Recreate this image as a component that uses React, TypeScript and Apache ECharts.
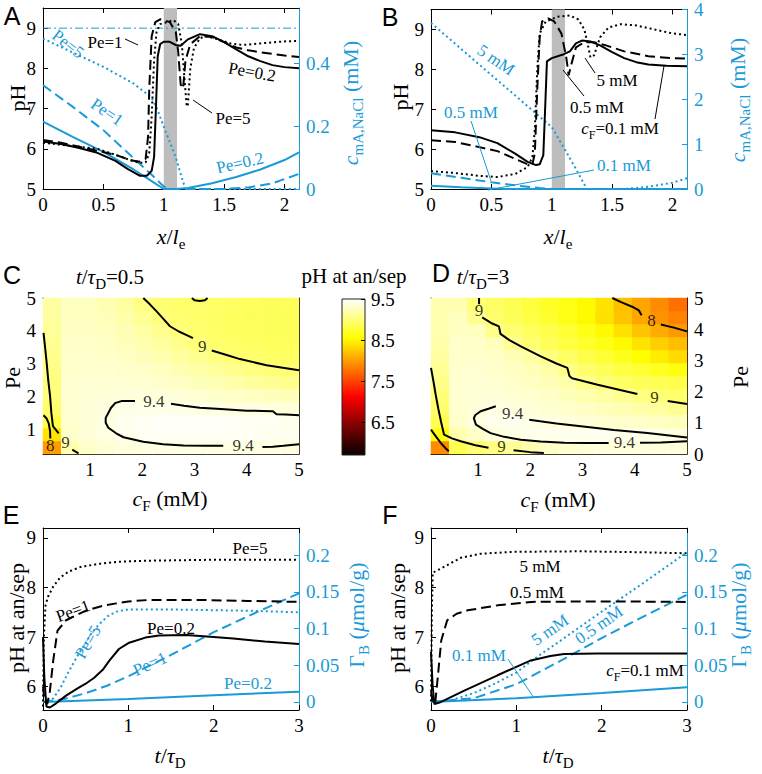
import React, { useEffect, useRef } from 'react';
import * as echarts from 'echarts';

type Pt = [number, number];

const SERIF = 'Liberation Serif';
const SANS = 'Liberation Sans';
const BLUE = '#1a9ad7';
const BLACK = '#000000';

// ---------------- Panel A: pH (left) and c_mA,NaCl (right) vs x/l_e ----------------
const A_PH_PE02: Pt[] = [[0,6.18],[0.15,6.12],[0.3,6.02],[0.45,5.9],[0.6,5.7],[0.7,5.5],[0.8,5.33],[0.86,5.33],[0.9,5.45],[0.92,5.8],[0.935,7.0],[0.95,8.3],[0.97,8.6],[1.0,8.66],[1.05,8.66],[1.1,8.58],[1.14,8.56],[1.2,8.72],[1.3,8.85],[1.4,8.8],[1.5,8.65],[1.6,8.47],[1.7,8.3],[1.8,8.18],[1.9,8.08],[2.0,8.03],[2.12,8.0]];
const A_PH_PE1: Pt[] = [[0,6.22],[0.15,6.15],[0.3,6.05],[0.45,5.95],[0.6,5.85],[0.72,5.72],[0.8,5.68],[0.85,5.75],[0.87,6.3],[0.88,7.5],[0.9,8.8],[0.93,9.15],[0.97,9.22],[1.0,9.2],[1.05,9.15],[1.1,8.9],[1.12,8.4],[1.14,7.6],[1.16,7.5],[1.18,8.2],[1.22,8.6],[1.3,8.8],[1.4,8.78],[1.5,8.65],[1.6,8.52],[1.7,8.45],[1.8,8.4],[2.0,8.32],[2.12,8.28]];
const A_PH_PE5: Pt[] = [[0,6.15],[0.15,6.1],[0.3,6.05],[0.45,6.0],[0.6,5.85],[0.72,5.72],[0.8,5.65],[0.85,5.66],[0.88,5.9],[0.9,6.8],[0.92,8.2],[0.94,8.9],[0.97,9.1],[1.03,9.15],[1.08,9.2],[1.12,9.1],[1.15,8.6],[1.17,7.8],[1.19,7.05],[1.2,7.1],[1.22,8.0],[1.25,8.5],[1.3,8.75],[1.35,8.8],[1.45,8.72],[1.55,8.62],[1.65,8.58],[1.8,8.62],[2.0,8.67],[2.12,8.68]];
const A_C_PE02: Pt[] = [[0,0.214],[0.25,0.165],[0.5,0.118],[0.75,0.062],[0.9,0.025],[1.0,0],[1.1,0],[1.2,0.003],[1.4,0.018],[1.6,0.038],[1.8,0.062],[2.0,0.092],[2.12,0.116]];
const A_C_PE1: Pt[] = [[0,0.33],[0.25,0.26],[0.5,0.187],[0.75,0.098],[0.9,0.045],[1.0,0.008],[1.05,0],[1.5,0],[1.7,0.005],[1.9,0.018],[2.12,0.048]];
const A_C_PE5: Pt[] = [[0,0.478],[0.25,0.433],[0.5,0.388],[0.75,0.335],[0.9,0.29],[0.95,0.25],[1.0,0.198],[1.05,0.15],[1.1,0.1],[1.15,0.035],[1.18,0],[2.12,0]];
const A_C_FEED = 0.511;

// ---------------- Panel B ----------------
const B_PH_CF01: Pt[] = [[0,6.47],[0.2,6.42],[0.4,6.3],[0.55,6.15],[0.7,5.88],[0.8,5.68],[0.87,5.6],[0.9,5.62],[0.93,5.85],[0.945,7.0],[0.96,8.2],[1.0,8.28],[1.1,8.38],[1.15,8.45],[1.2,8.65],[1.25,8.72],[1.32,8.7],[1.4,8.6],[1.5,8.43],[1.6,8.28],[1.7,8.18],[1.8,8.12],[1.95,8.09],[2.12,8.08]];
const B_PH_CF05: Pt[] = [[0,6.22],[0.2,6.18],[0.4,6.05],[0.55,5.95],[0.7,5.75],[0.8,5.62],[0.84,5.62],[0.86,5.9],[0.88,7.5],[0.9,8.8],[0.92,9.2],[0.97,9.28],[1.02,9.2],[1.08,8.9],[1.12,8.3],[1.14,7.85],[1.16,8.1],[1.2,8.55],[1.27,8.68],[1.35,8.68],[1.45,8.6],[1.6,8.45],[1.8,8.33],[2.0,8.28],[2.12,8.27]];
const B_PH_CF5: Pt[] = [[0,5.45],[0.2,5.4],[0.4,5.33],[0.55,5.3],[0.7,5.38],[0.8,5.55],[0.84,5.8],[0.86,6.5],[0.88,8.0],[0.9,8.9],[0.95,9.2],[1.05,9.32],[1.15,9.35],[1.22,9.25],[1.27,9.0],[1.3,8.6],[1.32,8.3],[1.35,8.35],[1.4,8.8],[1.47,9.05],[1.57,9.13],[1.7,9.1],[1.85,9.0],[2.0,8.9],[2.12,8.86]];
const B_C_CF5: Pt[] = [[0,3.7],[0.25,3.12],[0.5,2.54],[0.75,1.96],[1.0,1.38],[1.1,0.92],[1.2,0.45],[1.29,0],[1.6,0],[1.8,0.05],[2.0,0.14],[2.12,0.24]];
const B_C_CF05: Pt[] = [[0,0.35],[0.25,0.25],[0.5,0.15],[0.7,0.08],[0.9,0.02],[1.0,0],[2.12,0]];
const B_C_CF01: Pt[] = [[0,0.07],[0.25,0.04],[0.5,0.012],[0.6,0],[2.12,0]];
const MEMBRANE_BAND: [number, number] = [1.0, 1.11];

// ---------------- Panels C, D: pH at an/sep maps (rows bottom -> top) ----------------
const CF_CENTERS = [0.275,0.625,0.975,1.325,1.675,2.025,2.375,2.725,3.075,3.425,3.775,4.125,4.475,4.825];
const PE_CENTERS_C = [0.45,0.84,1.24,1.64,2.03,2.43,2.83,3.22,3.62,4.01,4.41,4.8];
const PE_CENTERS_D = [0.21,0.625,1.04,1.46,1.875,2.29,2.71,3.125,3.54,3.96,4.375,4.79];
const C_PH: number[][] = [
  [8.0,9.2,9.3,9.35,9.37,9.38,9.39,9.39,9.4,9.4,9.4,9.39,9.39,9.38],
  [8.4,9.3,9.36,9.39,9.43,9.45,9.46,9.46,9.46,9.46,9.45,9.45,9.44,9.44],
  [8.8,9.32,9.36,9.39,9.44,9.46,9.47,9.47,9.47,9.47,9.46,9.46,9.45,9.42],
  [8.95,9.33,9.36,9.38,9.41,9.42,9.42,9.41,9.4,9.39,9.39,9.38,9.37,9.36],
  [9.0,9.33,9.35,9.36,9.37,9.37,9.36,9.35,9.33,9.31,9.29,9.27,9.25,9.23],
  [9.02,9.32,9.34,9.34,9.34,9.33,9.31,9.28,9.25,9.22,9.18,9.14,9.1,9.07],
  [9.05,9.31,9.32,9.32,9.31,9.29,9.26,9.22,9.17,9.12,9.07,9.03,9.0,8.98],
  [9.07,9.3,9.31,9.3,9.28,9.25,9.2,9.14,9.08,9.02,8.98,8.95,8.93,8.92],
  [9.1,9.29,9.3,9.28,9.25,9.2,9.14,9.07,9.0,8.96,8.93,8.91,8.9,8.89],
  [9.12,9.28,9.28,9.26,9.22,9.16,9.08,9.0,8.96,8.93,8.91,8.9,8.89,8.88],
  [9.14,9.27,9.27,9.24,9.18,9.1,9.01,8.97,8.94,8.92,8.9,8.89,8.88,8.88],
  [9.15,9.26,9.26,9.22,9.14,9.03,8.98,8.95,8.96,8.93,8.91,8.9,8.89,8.89],
];
const D_PH: number[][] = [
  [7.9,8.85,8.97,9.03,9.1,9.2,9.28,9.32,9.35,9.36,9.37,9.37,9.37,9.36],
  [8.6,9.2,9.3,9.37,9.4,9.42,9.43,9.44,9.44,9.44,9.43,9.42,9.4,9.38],
  [8.85,9.3,9.39,9.43,9.44,9.41,9.38,9.37,9.35,9.33,9.31,9.29,9.27,9.25],
  [8.95,9.32,9.36,9.4,9.38,9.36,9.34,9.31,9.28,9.25,9.21,9.17,9.13,9.09],
  [9.0,9.33,9.35,9.35,9.34,9.32,9.29,9.25,9.2,9.15,9.09,9.03,8.98,8.95],
  [9.05,9.33,9.34,9.33,9.31,9.28,9.24,9.18,9.07,8.99,8.93,8.89,8.86,8.83],
  [9.1,9.32,9.33,9.31,9.28,9.24,9.17,9.05,8.96,8.88,8.81,8.74,8.67,8.6],
  [9.15,9.31,9.31,9.29,9.24,9.16,9.02,8.92,8.83,8.74,8.66,8.55,8.45,8.35],
  [9.18,9.3,9.29,9.25,9.1,8.97,8.88,8.8,8.72,8.63,8.52,8.4,8.28,8.18],
  [9.2,9.28,9.26,9.06,8.97,8.9,8.82,8.74,8.64,8.52,8.38,8.22,8.08,7.98],
  [9.2,9.26,9.08,8.96,8.88,8.8,8.72,8.63,8.52,8.38,8.22,8.06,7.94,7.85],
  [9.2,9.2,9.0,8.92,8.85,8.78,8.7,8.62,8.52,8.4,8.2,8.04,7.9,7.75],
];
// contour lines (cF, Pe), split where labels sit
const C_CONTOURS: Pt[][] = [
  [[2.02,5.0],[2.15,4.8],[2.27,4.6],[2.4,4.37],[2.53,4.14],[2.7,3.98],[2.85,3.87],[2.97,3.78]],
  [[3.33,3.4],[3.6,3.27],[3.87,3.14],[4.38,2.95],[5.0,2.8]],
  [[2.95,5.0],[3.0,4.93],[3.1,4.91],[3.2,4.93],[3.25,5.0]],
  [[0.11,3.94],[0.14,3.5],[0.17,3.03],[0.2,2.5],[0.235,2.02],[0.26,1.5],[0.29,1.1],[0.34,1.0],[0.4,0.88]],
  [[0.66,0.38],[0.78,0.27]],
  [[0.11,1.43],[0.17,1.33],[0.21,1.18],[0.235,0.95],[0.24,0.72]],
  [[5.0,1.43],[4.75,1.45],[4.57,1.46],[4.5,1.55],[4.3,1.56],[4.0,1.57],[3.5,1.62],[3.1,1.66],[2.8,1.72],[2.55,1.78]],
  [[1.86,1.86],[1.6,1.86],[1.48,1.8],[1.4,1.65],[1.3,1.35],[1.3,1.2],[1.35,1.05],[1.5,0.88],[1.64,0.76],[2.02,0.62],[2.4,0.55],[2.79,0.51],[3.2,0.5],[3.55,0.5]],
  [[4.3,0.46],[4.5,0.47],[4.7,0.5],[5.0,0.55]],
];
const C_LABELS: [number, number, string][] = [[3.15,3.52,'9'],[0.53,0.6,'9'],[0.24,0.5,'8'],[2.22,1.84,'9.4'],[3.93,0.5,'9.4']];
const D_CONTOURS: Pt[][] = [
  [[3.57,5.0],[3.75,4.86],[3.95,4.72],[4.08,4.6],[4.13,4.45]],
  [[4.5,4.15],[4.75,4.05],[5.0,3.93]],
  [[1.02,5.0],[1.02,4.8]],
  [[1.08,4.38],[1.25,4.2],[1.4,4.09],[1.43,3.85],[1.6,3.65],[1.82,3.45],[2.2,3.13],[2.5,2.9],[2.71,2.76],[2.75,2.5],[2.8,2.43],[3.29,2.22],[3.7,2.06],[4.05,1.92]],
  [[4.63,1.7],[5.0,1.6]],
  [[1.34,1.53],[1.2,1.45],[1.05,1.37],[0.95,1.25],[0.92,1.15],[0.96,0.94],[1.1,0.8],[1.24,0.67],[1.5,0.55],[1.82,0.46],[2.2,0.4],[2.65,0.36],[3.1,0.35],[3.5,0.35]],
  [[4.1,0.36],[4.5,0.37],[5.0,0.41]],
  [[1.98,1.1],[2.5,0.98],[2.97,0.89],[3.6,0.77],[4.24,0.67],[5.0,0.53]],
  [[0.1,2.76],[0.15,2.3],[0.19,1.9],[0.24,1.45],[0.29,1.05],[0.35,0.62],[0.5,0.5],[0.67,0.41],[0.95,0.28],[1.2,0.2]],
  [[1.68,0.12],[2.0,0.06],[2.26,0.03]],
  [[0.1,0.78],[0.2,0.55],[0.29,0.35],[0.37,0.2],[0.44,0.09]],
];
const D_LABELS: [number, number, string][] = [[4.32,4.27,'8'],[1.02,4.6,'9'],[4.38,1.82,'9'],[1.66,1.3,'9.4'],[3.8,0.37,'9.4'],[1.45,0.24,'9']];
const HOT = ['#0b0000','#550000','#aa0000','#ff0000','#ff5500','#ffaa00','#ffff00','#ffff80','#ffffff'];
const CBAR_MIN = 5.7;
const CBAR_MAX = 9.5;

// ---------------- Panel E ----------------
const E_PH_PE5: Pt[] = [[0,5.6],[0.01,7.0],[0.03,7.65],[0.06,7.82],[0.12,8.02],[0.2,8.2],[0.3,8.32],[0.45,8.42],[0.67,8.48],[0.9,8.52],[1.2,8.54],[1.6,8.55],[2.0,8.56],[2.5,8.56],[3.0,8.56]];
const E_PH_PE1: Pt[] = [[0,6.0],[0.02,5.7],[0.05,5.65],[0.08,5.9],[0.12,6.53],[0.17,7.13],[0.27,7.34],[0.4,7.45],[0.51,7.54],[0.7,7.63],[0.86,7.68],[1.0,7.72],[1.25,7.75],[1.8,7.75],[2.4,7.73],[3.0,7.71]];
const E_PH_PE02: Pt[] = [[0,7.0],[0.015,6.2],[0.04,5.6],[0.08,5.58],[0.15,5.66],[0.27,5.82],[0.4,5.96],[0.5,6.06],[0.6,6.18],[0.7,6.34],[0.78,6.53],[0.89,6.76],[1.0,6.88],[1.2,6.99],[1.36,7.03],[1.68,7.04],[2.0,7.0],[2.23,6.97],[2.6,6.91],[3.0,6.86]];
const E_G_PE5: Pt[] = [[0,0],[0.1,0.002],[0.2,0.018],[0.29,0.039],[0.4,0.062],[0.47,0.075],[0.57,0.094],[0.66,0.106],[0.76,0.117],[0.86,0.123],[1.0,0.126],[1.5,0.126],[2.0,0.125],[2.5,0.124],[3.0,0.122]];
const E_G_PE1: Pt[] = [[0,0],[0.25,0.004],[0.5,0.012],[0.75,0.022],[1.0,0.035],[1.5,0.064],[2.0,0.095],[2.5,0.122],[3.0,0.148]];
const E_G_PE02: Pt[] = [[0,0],[1.0,0.004],[2.0,0.009],[3.0,0.014]];

// ---------------- Panel F ----------------
const F_PH_CF5: Pt[] = [[0,5.7],[0.01,7.5],[0.02,8.3],[0.08,8.35],[0.19,8.45],[0.35,8.6],[0.58,8.68],[0.97,8.72],[1.75,8.73],[2.5,8.71],[3.0,8.69]];
const F_PH_CF05: Pt[] = [[0,5.9],[0.03,5.65],[0.05,5.68],[0.08,6.2],[0.12,6.93],[0.19,7.34],[0.3,7.47],[0.43,7.54],[0.78,7.64],[1.17,7.71],[2.0,7.72],[3.0,7.71]];
const F_PH_CF01: Pt[] = [[0,6.7],[0.02,6.0],[0.04,5.65],[0.1,5.68],[0.39,5.92],[0.78,6.23],[1.0,6.4],[1.17,6.53],[1.4,6.62],[1.56,6.66],[1.95,6.67],[3.0,6.67]];
const F_G_CF5: Pt[] = [[0,0],[0.25,0.003],[0.5,0.012],[0.75,0.025],[1.0,0.04],[1.25,0.062],[1.5,0.082],[2.0,0.123],[2.5,0.163],[3.0,0.204]];
const F_G_CF05: Pt[] = [[0,0],[0.5,0.005],[1.0,0.024],[1.5,0.055],[2.0,0.087],[2.5,0.117],[3.0,0.146]];
const F_G_CF01: Pt[] = [[0,0],[1.0,0.005],[2.0,0.012],[3.0,0.02]];

// ---------------- tick values ----------------
const TICKS_X_AB = [0, 0.5, 1, 1.5, 2];
const TICKS_PH_AB = [5, 6, 7, 8, 9];
const TICKS_C_A = [0, 0.2, 0.4];
const TICKS_C_B = [0, 1, 2, 3, 4];
const TICKS_CF = [1, 2, 3, 4, 5];
const TICKS_PE_C = [1, 2, 3, 4, 5];
const TICKS_PE_D = [0, 1, 2, 3, 4, 5];
const TICKS_CBAR = [6.5, 7.5, 8.5, 9.5];
const TICKS_T = [0, 1, 2, 3];
const TICKS_PH_EF = [6, 7, 8, 9];
const TICKS_GAMMA = [0, 0.05, 0.1, 0.15, 0.2];

const fmt = (v: number) => String(Math.round(v * 1000) / 1000);
const DASH = [10, 5];
const DOT = [2, 3];
const TICK_FONT = 19;

function xAx(grid: number, min: number, max: number, ticks: number[], pos: string, labels: boolean) {
  return {
    type: 'value', gridIndex: grid, min, max, position: pos,
    axisLine: { show: true, onZero: false, lineStyle: { color: BLACK, width: 1 } },
    axisTick: { show: ticks.length > 0, inside: true, length: 5, customValues: ticks, lineStyle: { color: BLACK, width: 1 } },
    axisLabel: { show: labels, customValues: ticks, color: BLACK, fontFamily: SERIF, fontSize: TICK_FONT, margin: 6, formatter: fmt },
    splitLine: { show: false },
  };
}
function yAx(grid: number, min: number, max: number, ticks: number[], pos: string, labels: boolean, color = BLACK) {
  return {
    type: 'value', gridIndex: grid, min, max, position: pos,
    axisLine: { show: true, onZero: false, lineStyle: { color, width: 1 } },
    axisTick: { show: true, inside: true, length: 5, customValues: ticks, lineStyle: { color, width: 1 } },
    axisLabel: { show: labels, customValues: ticks, color, fontFamily: SERIF, fontSize: TICK_FONT, margin: 7, formatter: fmt },
    splitLine: { show: false },
  };
}
function catAx(grid: number, data: number[]) {
  return { type: 'category', gridIndex: grid, data: data.map(String), show: false, boundaryGap: true };
}
function ln(data: Pt[], xi: number, yi: number, color: string, type: any, width = 2) {
  return {
    type: 'line', data, xAxisIndex: xi, yAxisIndex: yi, showSymbol: false, symbol: 'none', silent: true, z: 3,
    lineStyle: { color, width, type }, itemStyle: { color },
  };
}
function richSet(size: number, color: string) {
  const sub = Math.round(size * 0.7);
  return {
    n: { fontFamily: SERIF, fontSize: size, fill: color, lineHeight: size + 8 },
    i: { fontFamily: SERIF, fontSize: size, fontStyle: 'italic', fill: color, lineHeight: size + 8 },
    s: { fontFamily: SERIF, fontSize: sub, fill: color, lineHeight: sub + 1, verticalAlign: 'bottom' },
  };
}
function tx(x: number, y: number, text: string, size: number, color: string, rot = 0) {
  return {
    type: 'text', x, y, rotation: rot, silent: true, z: 100,
    style: { text, fill: color, fontFamily: SERIF, fontSize: size, align: 'center', verticalAlign: 'middle', rich: richSet(size, color) },
  };
}
function letter(x: number, y: number, t: string) {
  return { type: 'text', x, y, silent: true, z: 100, style: { text: t, fill: BLACK, fontFamily: SANS, fontSize: 25, align: 'center', verticalAlign: 'middle' } };
}
function seg(x1: number, y1: number, x2: number, y2: number, color: string) {
  return { type: 'line', silent: true, z: 100, shape: { x1, y1, x2, y2 }, style: { stroke: color, lineWidth: 1 } };
}
function heat(rows: number[][]) {
  const out: number[][] = [];
  rows.forEach((row, r) => row.forEach((v, c) => out.push([c, r, v])));
  return out;
}

function buildOption() {
  const grids = [
    { left: 43, top: 8, width: 256, height: 181 },
    { left: 431, top: 8, width: 256, height: 181 },
    { left: 43, top: 298, width: 256, height: 156 },
    { left: 43, top: 298, width: 256, height: 156 },
    { left: 431, top: 298, width: 256, height: 156 },
    { left: 431, top: 298, width: 256, height: 156 },
    { left: 342, top: 299, width: 23, height: 156 },
    { left: 43, top: 528, width: 256, height: 182 },
    { left: 431, top: 528, width: 256, height: 182 },
  ].map((g) => ({ ...g, containLabel: false, show: false }));

  const xAxis = [
    xAx(0, 0, 2.12, TICKS_X_AB, 'bottom', true),
    xAx(0, 0, 2.12, TICKS_X_AB, 'top', false),
    xAx(1, 0, 2.12, TICKS_X_AB, 'bottom', true),
    xAx(1, 0, 2.12, TICKS_X_AB, 'top', false),
    catAx(2, CF_CENTERS),
    xAx(3, 0.1, 5, TICKS_CF, 'bottom', true),
    xAx(3, 0.1, 5, TICKS_CF, 'top', false),
    catAx(4, CF_CENTERS),
    xAx(5, 0.1, 5, TICKS_CF, 'bottom', true),
    xAx(5, 0.1, 5, TICKS_CF, 'top', false),
    { type: 'value', gridIndex: 6, min: 0, max: 1, show: false },
    xAx(7, 0, 3, TICKS_T, 'bottom', true),
    xAx(7, 0, 3, TICKS_T, 'top', false),
    xAx(8, 0, 3, TICKS_T, 'bottom', true),
    xAx(8, 0, 3, TICKS_T, 'top', false),
  ];
  const cbarAxis: any = yAx(6, CBAR_MIN, CBAR_MAX, TICKS_CBAR, 'right', true);
  cbarAxis.axisLine = { show: false, onZero: false };
  cbarAxis.axisTick.length = 4;
  cbarAxis.axisLabel.margin = 6;
  const yAxis = [
    yAx(0, 5, 9.5, TICKS_PH_AB, 'left', true),
    yAx(0, 0, 0.575, TICKS_C_A, 'right', true, BLUE),
    yAx(1, 5, 9.5, TICKS_PH_AB, 'left', true),
    yAx(1, 0, 4, TICKS_C_B, 'right', true, BLUE),
    catAx(2, PE_CENTERS_C),
    yAx(3, 0.25, 5, TICKS_PE_C, 'left', true),
    yAx(3, 0.25, 5, TICKS_PE_C, 'right', false),
    catAx(4, PE_CENTERS_D),
    yAx(5, 0, 5, TICKS_PE_D, 'right', true),
    yAx(5, 0, 5, TICKS_PE_D, 'left', false),
    cbarAxis,
    yAx(7, 5.53, 9.2, TICKS_PH_EF, 'left', true),
    yAx(7, -0.011, 0.237, TICKS_GAMMA, 'right', true, BLUE),
    yAx(8, 5.53, 9.2, TICKS_PH_EF, 'left', true),
    yAx(8, -0.011, 0.237, TICKS_GAMMA, 'right', true, BLUE),
  ];

  const band = (xi: number, yi: number) => ({
    type: 'line', data: [], xAxisIndex: xi, yAxisIndex: yi, z: 1, silent: true,
    markArea: { silent: true, itemStyle: { color: '#bdbdbd', opacity: 1 }, data: [[{ xAxis: MEMBRANE_BAND[0] }, { xAxis: MEMBRANE_BAND[1] }]] },
  });
  const labelSeries = (xi: number, yi: number, labels: [number, number, string][]) => ({
    type: 'scatter', xAxisIndex: xi, yAxisIndex: yi, symbolSize: 0, silent: true, z: 5,
    data: labels.map((l) => ({ value: [l[0], l[1]], name: l[2] })),
    label: { show: true, position: 'inside', formatter: '{b}', color: BLACK, fontFamily: SERIF, fontSize: 17 },
  });

  const series: any[] = [];
  // A
  series.push(band(0, 0));
  series.push(ln(A_C_PE02, 0, 1, BLUE, 'solid'));
  series.push(ln(A_C_PE1, 0, 1, BLUE, DASH));
  series.push(ln(A_C_PE5, 0, 1, BLUE, DOT));
  series.push(ln([[0, A_C_FEED], [2.12, A_C_FEED]], 0, 1, BLUE, [8, 3, 2, 3], 1));
  series.push(ln(A_PH_PE02, 0, 0, BLACK, 'solid'));
  series.push(ln(A_PH_PE1, 0, 0, BLACK, DASH));
  series.push(ln(A_PH_PE5, 0, 0, BLACK, DOT));
  // B
  series.push(band(2, 2));
  series.push(ln(B_C_CF01, 2, 3, BLUE, 'solid'));
  series.push(ln(B_C_CF05, 2, 3, BLUE, DASH));
  series.push(ln(B_C_CF5, 2, 3, BLUE, DOT));
  series.push(ln(B_PH_CF01, 2, 2, BLACK, 'solid'));
  series.push(ln(B_PH_CF05, 2, 2, BLACK, DASH));
  series.push(ln(B_PH_CF5, 2, 2, BLACK, DOT));
  // C
  const hC = series.length;
  series.push({ type: 'heatmap', xAxisIndex: 4, yAxisIndex: 4, data: heat(C_PH), silent: true, z: 1 });
  C_CONTOURS.forEach((c) => series.push(ln(c, 5, 5, BLACK, 'solid', 2)));
  series.push(labelSeries(5, 5, C_LABELS));
  // D
  const hD = series.length;
  series.push({ type: 'heatmap', xAxisIndex: 7, yAxisIndex: 7, data: heat(D_PH), silent: true, z: 1 });
  D_CONTOURS.forEach((c) => series.push(ln(c, 8, 8, BLACK, 'solid', 2)));
  series.push(labelSeries(8, 8, D_LABELS));
  // E
  series.push(ln(E_G_PE02, 11, 12, BLUE, 'solid'));
  series.push(ln(E_G_PE1, 11, 12, BLUE, DASH));
  series.push(ln(E_G_PE5, 11, 12, BLUE, DOT));
  series.push(ln(E_PH_PE02, 11, 11, BLACK, 'solid'));
  series.push(ln(E_PH_PE1, 11, 11, BLACK, DASH));
  series.push(ln(E_PH_PE5, 11, 11, BLACK, DOT));
  // F
  series.push(ln(F_G_CF01, 13, 14, BLUE, 'solid'));
  series.push(ln(F_G_CF05, 13, 14, BLUE, DASH));
  series.push(ln(F_G_CF5, 13, 14, BLUE, DOT));
  series.push(ln(F_PH_CF01, 13, 13, BLACK, 'solid'));
  series.push(ln(F_PH_CF05, 13, 13, BLACK, DASH));
  series.push(ln(F_PH_CF5, 13, 13, BLACK, DOT));

  const R = Math.PI / 2;
  const cCF = '{i|c}{s|F}{n| (mM)}';
  const graphic: any[] = [
    {
      type: 'rect', z: -1, silent: true,
      shape: { x: 342, y: 299, width: 23, height: 156 },
      style: {
        fill: new echarts.graphic.LinearGradient(0, 1, 0, 0, HOT.map((c, i) => ({ offset: i / (HOT.length - 1), color: c }))),
        stroke: '#222', lineWidth: 1,
      },
    },
    letter(12, 16, 'A'), letter(390, 17, 'B'), letter(12, 275, 'C'), letter(441, 273, 'D'), letter(11, 515, 'E'), letter(390, 515, 'F'),
    // axis titles
    tx(17, 98, 'pH', 22, BLACK, R),
    tx(350, 103, '{i|c}{s|mA,NaCl}{n| (mM)}', 22, BLUE, R),
    tx(171, 236, '{i|x}{n|/}{i|l}{s|e}', 22, BLACK),
    tx(400, 97, 'pH', 22, BLACK, R),
    tx(737, 100, '{i|c}{s|mA,NaCl}{n| (mM)}', 22, BLUE, R),
    tx(558, 236, '{i|x}{n|/}{i|l}{s|e}', 22, BLACK),
    tx(110, 277, '{i|t}{n|/}{i|τ}{s|D}{n|=0.5}', 21, BLACK),
    tx(483, 277, '{i|t}{n|/}{i|τ}{s|D}{n|=3}', 21, BLACK),
    tx(354, 276, 'pH at an/sep', 21, BLACK),
    tx(12, 378, 'Pe', 22, BLACK, R),
    tx(740, 377, 'Pe', 22, BLACK, R),
    tx(170, 498, cCF, 22, BLACK),
    tx(558, 499, cCF, 22, BLACK),
    tx(16, 618, 'pH at an/sep', 22, BLACK, R),
    tx(397, 618, 'pH at an/sep', 22, BLACK, R),
    tx(356, 615, '{n|Γ}{s|B}{n| (}{i|μ}{n|mol/g)}', 22, BLUE, R),
    tx(738, 615, '{n|Γ}{s|B}{n| (}{i|μ}{n|mol/g)}', 22, BLUE, R),
    tx(170, 755, '{i|t}{n|/}{i|τ}{s|D}', 22, BLACK),
    tx(558, 755, '{i|t}{n|/}{i|τ}{s|D}', 22, BLACK),
    // A annotations
    tx(105, 42, 'Pe=1', 17, BLACK),
    tx(252, 72, 'Pe=0.2', 17, BLACK, -0.18),
    tx(233, 118, 'Pe=5', 17, BLACK),
    tx(68, 44, 'Pe=5', 17, BLUE, -0.66),
    tx(107, 112, 'Pe=1', 17, BLUE, -0.6),
    tx(240, 163, 'Pe=0.2', 17, BLUE, 0.22),
    seg(125, 39, 138, 45, BLACK),
    seg(212, 113, 193, 100, BLACK),
    // B annotations
    tx(496, 60, '5 mM', 17, BLUE, -0.6),
    tx(471, 112, '0.5 mM', 17, BLUE),
    tx(624, 165, '0.1 mM', 17, BLUE),
    tx(617, 80, '5 mM', 17, BLACK),
    tx(597, 107, '0.5 mM', 17, BLACK),
    tx(620, 128, '{i|c}{s|F}{n|=0.1 mM}', 17, BLACK),
    seg(471, 121, 491, 181, BLUE),
    seg(594, 170, 488, 190, BLUE),
    seg(595, 73, 585, 58, BLACK),
    seg(584, 96, 563, 70, BLACK),
    seg(655, 119, 664, 66, BLACK),
    // E annotations
    tx(250, 548, 'Pe=5', 17, BLACK),
    tx(73, 611, 'Pe=1', 17, BLACK, 0.35),
    tx(171, 628, 'Pe=0.2', 17, BLACK),
    tx(88, 642, 'Pe=5', 17, BLUE, 1.05),
    tx(150, 664, 'Pe=1', 17, BLUE, 0.42),
    tx(248, 683, 'Pe=0.2', 17, BLUE),
    // F annotations
    tx(540, 566, '5 mM', 17, BLACK),
    tx(537, 592, '0.5 mM', 17, BLACK),
    tx(550, 630, '5 mM', 17, BLUE, 0.6),
    tx(599, 625, '0.5 mM', 17, BLUE, 0.6),
    tx(479, 655, '0.1 mM', 17, BLUE),
    tx(645, 670, '{i|c}{s|F}{n|=0.1 mM}', 17, BLACK),
    seg(508, 659, 534, 698, BLUE),
  ];

  return {
    animation: false,
    backgroundColor: '#ffffff',
    textStyle: { fontFamily: SERIF },
    grid: grids,
    xAxis,
    yAxis,
    visualMap: {
      type: 'continuous', show: false, min: CBAR_MIN, max: CBAR_MAX,
      seriesIndex: [hC, hD], inRange: { color: HOT },
    },
    series,
    graphic,
  };
}

export default function App() {
  const ref = useRef<HTMLDivElement>(null);
  useEffect(() => {
    if (!ref.current) return;
    const chart = echarts.init(ref.current, undefined, { renderer: 'svg' });
    chart.setOption(buildOption() as any);
    return () => chart.dispose();
  }, []);
  return <div ref={ref} style={{ position: 'absolute', left: 0, top: 0, width: 762, height: 774, background: '#fff' }} />;
}
